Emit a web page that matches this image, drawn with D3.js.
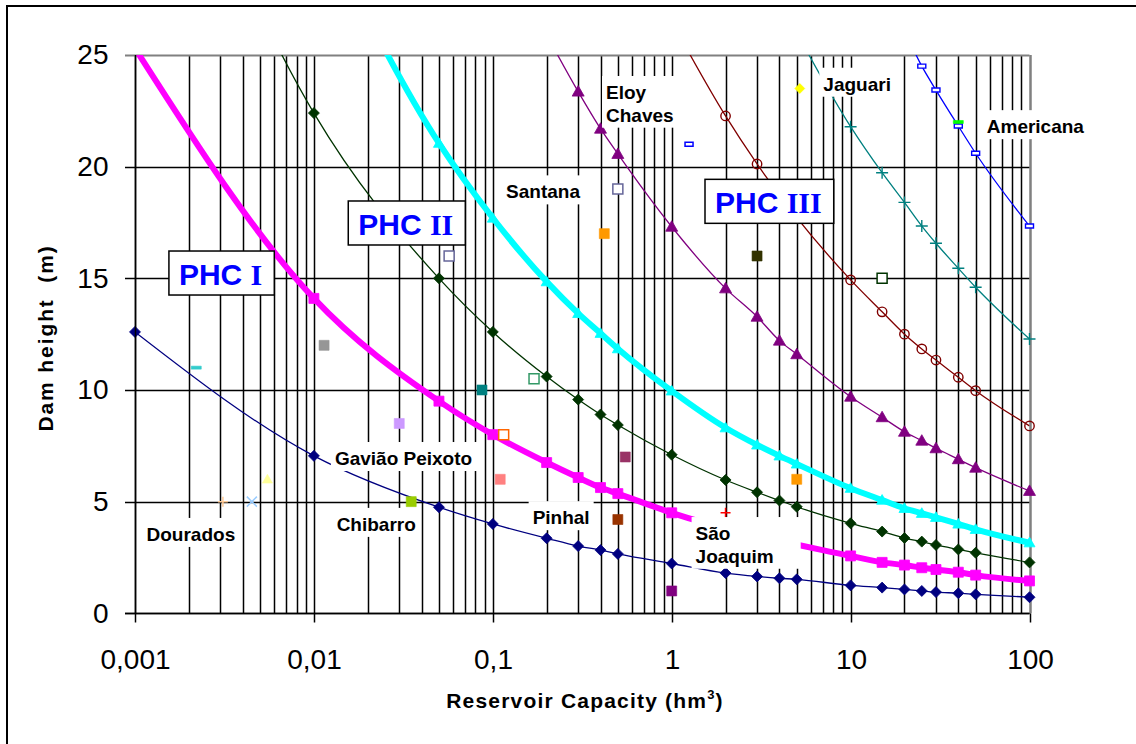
<!DOCTYPE html>
<html>
<head>
<meta charset="utf-8">
<script src="https://cdn.jsdelivr.net/npm/d3@7"></script>
<style>
body { margin: 0; background: #fff; }
text { font-family: Arial, "Liberation Sans", sans-serif; }
</style>
</head>
<body>
<svg id="chart" width="1136" height="744"></svg>
<script>
"use strict";
// ---- data ----
var capacities = [0.001, 0.01, 0.05, 0.1, 0.2, 0.3, 0.4, 0.5, 1, 2, 3, 4, 5, 10, 15, 20, 25, 30, 40, 50, 100];

var navyY = [12.6, 7.05, 4.75, 4.0, 3.36, 3.01, 2.83, 2.66, 2.23, 1.8, 1.65, 1.57, 1.52, 1.25, 1.15, 1.07, 1.0, 0.95, 0.9, 0.85, 0.72];

var phc1X = [0.001, 0.01, 0.05, 0.1, 0.2, 0.3, 0.4, 0.5, 1, 10, 15, 20, 25, 30, 40, 50, 100];
var phc1Y = [25.3, 14.1, 9.5, 8.0, 6.75, 6.08, 5.63, 5.36, 4.5, 2.57, 2.28, 2.16, 2.04, 1.96, 1.84, 1.71, 1.45];

var greenY = [40, 22.4, 15.0, 12.6, 10.6, 9.57, 8.9, 8.43, 7.1, 5.97, 5.42, 5.05, 4.77, 4.03, 3.66, 3.37, 3.21, 3.06, 2.86, 2.71, 2.28];

var phc2X = [0.01, 0.05, 0.1, 0.2, 0.3, 0.4, 0.5, 1, 2, 3, 4, 5, 10, 15, 20, 25, 30, 40, 50, 100];
var phc2Y = [31.6, 21.05, 17.7, 14.85, 13.43, 12.54, 11.85, 9.96, 8.31, 7.54, 7.05, 6.69, 5.6, 5.07, 4.7, 4.48, 4.3, 4.0, 3.76, 3.16];

var purpleX = [0.2, 0.3, 0.4, 0.5, 1, 2, 3, 4, 5, 10, 15, 20, 25, 30, 40, 50, 100];
var purpleY = [25.9, 23.36, 21.7, 20.57, 17.31, 14.55, 13.28, 12.21, 11.6, 9.7, 8.78, 8.13, 7.73, 7.39, 6.9, 6.52, 5.48];

var redX = [1, 2, 3, 10, 15, 20, 25, 30, 40, 50, 100];
var redY = [26.5, 22.27, 20.12, 14.93, 13.5, 12.5, 11.84, 11.34, 10.57, 9.97, 8.39];

var tealX = [5, 10, 15, 20, 25, 30, 40, 50, 100];
var tealY = [26, 21.79, 19.73, 18.4, 17.34, 16.57, 15.45, 14.6, 12.28];

var blueX = [20, 25, 30, 40, 50, 100];
var blueY = [26.1, 24.5, 23.43, 21.82, 20.6, 17.34];

// individual dams
var damCapacity = [0.0022, 0.0031, 0.0045, 0.0055, 0.0114, 0.03, 0.035, 0.057, 0.087, 0.11, 0.115, 0.17, 0.42, 0.5, 0.5, 0.55, 1, 1.25, 2, 3, 5, 5.2, 15, 40];
var damHeight   = [11, 5, 5, 6, 12, 8.5, 5, 16, 10, 6, 8, 10.5, 17, 19, 4.2, 7, 1, 21, 4.5, 16, 6, 23.5, 15, 22];

// text labels, anchored at data coordinates (left of text, first baseline)
var labelText = [["Dourados"], ["Chibarro"], ["Gavião Peixoto"], ["Pinhal"], ["São", "Joaquim"],
                 ["Santana"], ["Eloy", "Chaves"], ["Jaguari"], ["Americana"]];
var labelX = [0.00116, 0.0134, 0.0131, 0.167, 1.36, 0.1186, 0.4295, 7.04, 57.7];
var labelY = [3.24, 3.69, 6.64, 3.99, 3.28, 18.58, 23.03, 23.4, 21.5];

var phcText = ["I", "II", "III"];
var phcX = [0.00176, 0.0177, 1.746];
var phcY = [14.70, 16.94, 17.91];

var xTickValues = [0.001, 0.01, 0.1, 1, 10, 100];
var xTickLabels = ["0,001", "0,01", "0,1", "1", "10", "100"];
var yTickValues = [0, 5, 10, 15, 20, 25];

// ---- styles ----
var seriesList = [
  { xs: capacities, ys: navyY,  color: "#000080", width: 1.3, marker: "diamond",  r: 5.5, open: false },
  { xs: capacities, ys: greenY, color: "#003300", width: 1.3, marker: "diamond",  r: 5.5, open: false },
  { xs: purpleX,    ys: purpleY, color: "#800080", width: 1.3, marker: "triangle", r: 6,   open: false },
  { xs: redX,       ys: redY,   color: "#800000", width: 1.3, marker: "circle",   r: 4.7, open: true },
  { xs: tealX,      ys: tealY,  color: "#008080", width: 1.3, marker: "plus",     r: 6,   open: true },
  { xs: blueX,      ys: blueY,  color: "#0000ff", width: 1.3, marker: "bar",      r: 4,   open: true },
  { xs: phc1X,      ys: phc1Y,  color: "#ff00ff", width: 6,   marker: "square",   r: 5,   open: false },
  { xs: phc2X,      ys: phc2Y,  color: "#00ffff", width: 6,   marker: "triangle", r: 5.5, open: false }
];

var damStyle = [
  ["dash", "#33cccc", false], ["plus", "#ffcc99", true], ["cross", "#99ccff", true], ["triangle", "#ffff99", false],
  ["square", "#969696", false], ["square", "#cc99ff", false], ["square", "#99cc00", false], ["square", "#666699", true],
  ["square", "#008080", false], ["square", "#ff8080", false], ["square", "#ff6600", true], ["square", "#339966", true],
  ["square", "#ff9900", false], ["square", "#666699", true], ["square", "#993300", false], ["square", "#993366", false],
  ["square", "#800080", false], ["bar", "#0000ff", true], ["plus", "#ff0000", true], ["square", "#333300", false],
  ["square", "#ff9900", false], ["diamond", "#ffff00", false], ["square", "#003300", true], ["dash", "#00ff00", false]
];

// extra right padding of the white label boxes (São Joaquim box is wider in the original)
var labelPadRight = [4, 4, 6, 4, 27, 4, 2, 4, 4];

function shapePath(s, r) {
  switch (s) {
    case "diamond": return "M0," + (-r) + "L" + r + ",0L0," + r + "L" + (-r) + ",0Z";
    case "square": return "M" + (-r) + "," + (-r) + "h" + (2 * r) + "v" + (2 * r) + "h" + (-2 * r) + "Z";
    case "triangle": return "M0," + (-r) + "L" + r + "," + (r * 0.75) + "L" + (-r) + "," + (r * 0.75) + "Z";
    case "circle": return "M" + r + ",0A" + r + "," + r + " 0 1,1 " + (-r) + ",0A" + r + "," + r + " 0 1,1 " + r + ",0Z";
    case "plus": return "M" + (-r) + ",0H" + r + "M0," + (-r) + "V" + r;
    case "cross": return "M" + (-r) + "," + (-r) + "L" + r + "," + r + "M" + (-r) + "," + r + "L" + r + "," + (-r);
    case "dash": return "M" + (-r) + ",-1.5h" + (2 * r) + "v3h" + (-2 * r) + "Z";
    case "bar": return "M" + (-r) + "," + (-r / 2) + "h" + (2 * r) + "v" + r + "h" + (-2 * r) + "Z";
  }
}

// snap a coordinate to the middle of a pixel so 1.5px lines stay sharp
function snap(v) { return Math.round(v) + 0.5; }

// ---- chart ----
var svg = d3.select("#chart");
var plotL = 135, plotR = 1029.5, plotT = 55, plotB = 613.3;

var x = d3.scaleLog().domain([0.001, 100]).range([plotL, plotR]);
var y = d3.scaleLinear().domain([0, 25]).range([plotB, plotT]);

// outer chart frame (only top and left edges fall in the picture)
svg.append("rect")
  .attr("x", 7).attr("y", 6).attr("width", 1300).attr("height", 900)
  .attr("fill", "none").attr("stroke", "#000").attr("stroke-width", 2);

svg.append("defs").append("clipPath").attr("id", "plotclip")
  .append("rect").attr("x", plotL).attr("y", plotT)
  .attr("width", plotR - plotL).attr("height", plotB - plotT);

// vertical grid at every log tick
svg.append("g")
  .attr("transform", "translate(0," + plotB + ")")
  .call(d3.axisBottom(x).tickValues(x.ticks()).tickSize(-(plotB - plotT)).tickFormat(""))
  .call(function (g) { g.select(".domain").remove(); })
  .call(function (g) {
    g.selectAll(".tick").attr("transform", function (d) { return "translate(" + snap(x(d)) + ",0)"; });
  })
  .selectAll("line")
  .attr("stroke", "#000").attr("stroke-width", 1.5);

// horizontal grid + y ticks
svg.append("g")
  .attr("transform", "translate(" + plotL + ",0)")
  .call(d3.axisLeft(y).tickValues(yTickValues).tickSize(-(plotR - plotL)).tickFormat(""))
  .call(function (g) { g.select(".domain").remove(); })
  .call(function (g) {
    g.selectAll(".tick").attr("transform", function (d) { return "translate(0," + snap(y(d)) + ")"; });
  })
  .selectAll("line")
  .attr("x1", -10)
  .attr("stroke", function (d) { return d === 25 ? "#808080" : "#000"; })
  .attr("stroke-width", function (d) { return d === 25 ? 2 : 1.5; });

// right border of plot area
svg.append("line")
  .attr("x1", snap(x(100))).attr("x2", snap(x(100))).attr("y1", plotT).attr("y2", plotB)
  .attr("stroke", "#808080").attr("stroke-width", 2);

// series
var lineLayer = svg.append("g").attr("clip-path", "url(#plotclip)");
var markLayer = svg.append("g");
seriesList.forEach(function (s) {
  var pts = s.xs.map(function (v, i) { return [v, s.ys[i]]; });
  var line = d3.line()
    .x(function (d) { return x(d[0]); })
    .y(function (d) { return y(d[1]); })
    .curve(d3.curveMonotoneX);
  lineLayer.append("path")
    .datum(pts)
    .attr("d", line)
    .attr("fill", "none")
    .attr("stroke", s.color)
    .attr("stroke-width", s.width);
  markLayer.selectAll(null)
    .data(pts.filter(function (d) { return d[1] <= 25; }))
    .enter().append("path")
    .attr("transform", function (d) { return "translate(" + x(d[0]) + "," + y(d[1]) + ")"; })
    .attr("d", shapePath(s.marker, s.r))
    .attr("fill", s.open ? (s.marker === "bar" ? "#fff" : "none") : s.color)
    .attr("stroke", s.color)
    .attr("stroke-width", s.open ? 1.4 : 0.8);
});

// dams
svg.append("g").selectAll("path")
  .data(damCapacity.map(function (v, i) { return [v, damHeight[i], damStyle[i]]; }))
  .enter().append("path")
  .attr("transform", function (d) { return "translate(" + x(d[0]) + "," + y(d[1]) + ")"; })
  .attr("d", function (d) { return shapePath(d[2][0], d[2][0] === "bar" ? 4 : 5); })
  .attr("fill", function (d) {
    if (!d[2][2]) return d[2][1];
    return d[2][0] === "bar" || d[2][0] === "square" ? "#fff" : "none";
  })
  .attr("stroke", function (d) { return d[2][1]; })
  .attr("stroke-width", function (d) { return d[2][2] ? 1.5 : 0.6; });

// text labels on white boxes
labelText.forEach(function (lines, i) {
  var g = svg.append("g");
  var box = g.append("rect").attr("fill", "#fff");
  var t = g.append("text")
    .attr("x", x(labelX[i])).attr("y", y(labelY[i]))
    .attr("font-size", 19).attr("font-weight", "bold").attr("fill", "#000");
  lines.forEach(function (ln, k) {
    t.append("tspan").attr("x", x(labelX[i])).attr("dy", k === 0 ? 0 : 22.7).text(ln);
  });
  var b = t.node().getBBox();
  box.attr("x", b.x - 4).attr("y", b.y - 6)
    .attr("width", b.width + 4 + labelPadRight[i]).attr("height", b.height + 8);
});

// PHC boxes
phcText.forEach(function (num, i) {
  var g = svg.append("g");
  var box = g.append("rect").attr("fill", "#fff").attr("stroke", "#000").attr("stroke-width", 1.5);
  var t = g.append("text")
    .attr("x", x(phcX[i])).attr("y", y(phcY[i]))
    .attr("font-size", 30).attr("font-weight", "bold").attr("fill", "#0000ff");
  t.append("tspan").text("PHC\u00a0");
  t.append("tspan").style("font-family", "'Times New Roman', 'Liberation Serif', serif").text(num);
  var b = t.node().getBBox();
  box.attr("x", b.x - 10).attr("y", b.y - 7).attr("width", b.width + 22).attr("height", b.height + 11);
});

// axes
var xAxis = svg.append("g")
  .attr("transform", "translate(0," + snap(plotB) + ")")
  .call(d3.axisBottom(x).tickValues(xTickValues).tickSize(9).tickPadding(27)
    .tickFormat(function (d, i) { return xTickLabels[i]; }));
xAxis.selectAll(".tick").attr("transform", function (d) { return "translate(" + snap(x(d)) + ",0)"; });
xAxis.select(".domain").attr("stroke", "#000").attr("stroke-width", 1.5)
  .attr("d", "M" + (plotL - 10) + ",0H" + plotR);
xAxis.selectAll("line").attr("stroke", "#000").attr("stroke-width", 1.5);
xAxis.selectAll("text").attr("font-size", 28).attr("fill", "#000")
  .style("font-family", "Arial, 'Liberation Sans', sans-serif");

var yAxis = svg.append("g")
  .attr("transform", "translate(" + snap(plotL) + ",0)")
  .call(d3.axisLeft(y).tickValues(yTickValues).tickSize(0).tickPadding(27));
yAxis.select(".domain").attr("stroke", "#000").attr("stroke-width", 1.5)
  .attr("d", "M0," + plotT + "V" + plotB);
yAxis.selectAll("text").attr("font-size", 28).attr("fill", "#000")
  .style("font-family", "Arial, 'Liberation Sans', sans-serif");

// axis titles
var xt = svg.append("text")
  .attr("x", 585).attr("y", 708)
  .attr("text-anchor", "middle")
  .attr("font-size", 21).attr("font-weight", "bold")
  .attr("letter-spacing", 1.2);
xt.append("tspan").text("Reservoir Capacity (hm");
xt.append("tspan").attr("font-size", 13).attr("dy", -9).text("3");
xt.append("tspan").attr("dy", 9).text(")");

svg.append("text")
  .attr("transform", "translate(53,338) rotate(-90)")
  .attr("text-anchor", "middle")
  .attr("font-size", 21).attr("font-weight", "bold")
  .attr("letter-spacing", 1.9)
  .style("white-space", "pre")
  .text("Dam height  (m)");
</script>
</body>
</html>
